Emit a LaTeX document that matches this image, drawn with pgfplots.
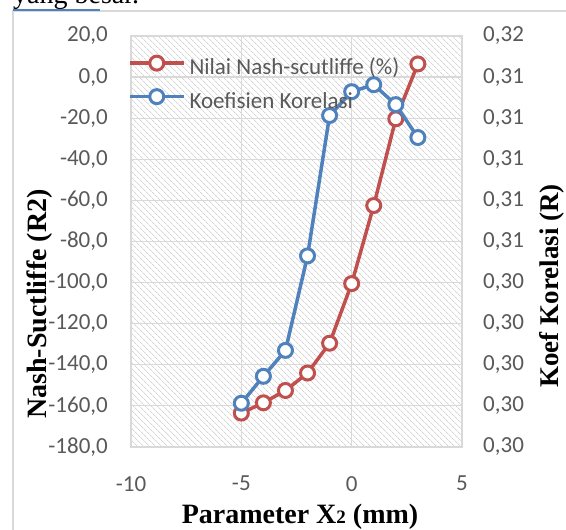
\documentclass[border=0pt]{standalone}
\usepackage{fontspec}
\setmainfont{Liberation Serif}
\newfontfamily\carlito{Carlito}
\usepackage{pgfplots}
\pgfplotsset{compat=1.18}
\usetikzlibrary{patterns.meta}

\definecolor{nsred}{HTML}{C0504D}
\definecolor{krblue}{HTML}{4F81BD}
\definecolor{ticktxt}{HTML}{595959}
\definecolor{gridc}{HTML}{D9D9D9}

\pgfplotsset{
  base/.style={
    scale only axis, width=331pt, height=411pt,
    at={(131pt,83pt)}, anchor=south west,
    xmin=-10, xmax=5,
    major tick length=0pt,
    axis line style={gridc, line width=1.2pt},
    tick label style={font=\carlito\fontsize{23}{26}\selectfont, text=ticktxt,
      inner sep=0pt, /pgf/number format/assume math mode=true},
  },
  serie/.style={#1, line width=3.5pt,
    mark=*, mark size=7pt, mark options={fill=white, draw=#1, line width=3pt}},
}

\begin{document}
\begin{tikzpicture}[x=1pt,y=1pt]
\useasboundingbox (0,0) rectangle (566,530);
% frame and cut-off text above the chart
\draw[gridc, line width=1.2pt] (13,0) -- (13,519) -- (566,519);
\draw[krblue, line width=1.5pt] (13,520) -- (100,520);
\node[anchor=base west, inner sep=0pt, font=\fontsize{28}{30}\selectfont] at (13,526) {yang besar.};

\begin{axis}[base,
  ymin=-180, ymax=20,
  ytick={-180,-160,...,20},
  yticklabels={{-180,0},{-160,0},{-140,0},{-120,0},{-100,0},{-80,0},{-60,0},{-40,0},{-20,0},{0,0},{20,0}},
  xtick={-10,-5,0,5},
  xticklabels={-10,-5,0,5},
  yticklabel style={anchor=east, xshift=-23pt},
  xticklabel style={anchor=north, yshift=-29pt},
  grid=major, major grid style={gridc, line width=1.2pt},
  axis background/.style={pattern={Lines[angle=-45,distance=4pt,line width=0.6pt]}, pattern color=gray!50},
]
\addplot[serie=nsred] coordinates {
(-5,-163.5) (-4,-158.5) (-3,-152.5) (-2,-144) (-1,-129.5) (0,-100.5) (1,-62.5) (2,-20.3) (3,6.4)
};
\end{axis}

\begin{axis}[base,
  axis x line=none, axis y line*=right,
  ymin=0.296, ymax=0.316,
  ytick={0.296,0.298,0.300,0.302,0.304,0.306,0.308,0.310,0.312,0.314,0.316},
  yticklabels={{0,30},{0,30},{0,30},{0,30},{0,30},{0,31},{0,31},{0,31},{0,31},{0,31},{0,32}},
  yticklabel style={anchor=west, xshift=21pt},
  legend style={at={(axis description cs:-0.009,0.951)}, anchor=north west,
    draw=none, fill=none, inner sep=0pt, outer sep=0pt,
    font=\carlito\fontsize{23}{26}\selectfont, text=ticktxt,
    nodes={inner sep=0pt, text height=17pt, text depth=6pt},
    column sep=4pt, row sep=9pt},
  legend cell align=left,
  legend image code/.code={\draw[#1, mark repeat=2, mark phase=2]
    plot coordinates {(0pt,6pt)(27pt,6pt)(54pt,6pt)};},
]
\addlegendimage{serie=nsred}
\addlegendentry{Nilai Nash-scutliffe (\%)}
\addplot[serie=krblue] coordinates {
(-5,0.29813) (-4,0.29944) (-3,0.30070) (-2,0.30530) (-1,0.31213) (0,0.31329) (1,0.31363) (2,0.31266) (3,0.31106)
};
\addlegendentry{Koefisien Korelasi}
\end{axis}

\node[rotate=90, font=\bfseries\fontsize{28}{30}\selectfont] at (40,226) {Nash-Suctliffe (R2)};
\node[rotate=90, font=\bfseries\fontsize{27}{30}\selectfont] at (552,244) {Koef Korelasi (R)};
\node[anchor=base, inner sep=0pt, font=\bfseries\fontsize{28}{30}\selectfont] at (300,6)
  {Parameter X{\fontsize{19}{20}\selectfont 2} (mm)};
\end{tikzpicture}
\end{document}
